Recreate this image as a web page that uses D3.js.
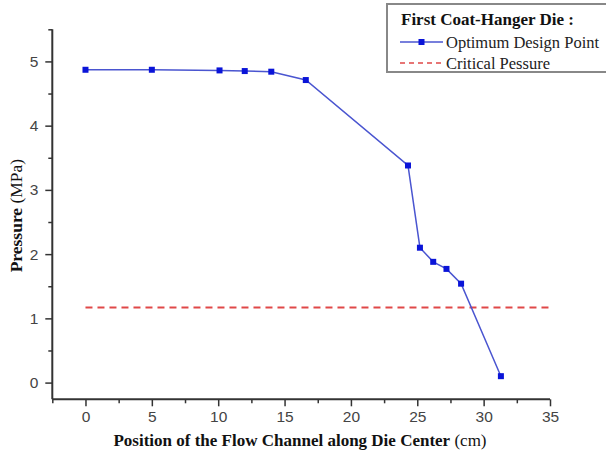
<!DOCTYPE html>
<html>
<head>
<meta charset="utf-8">
<script src="https://cdn.jsdelivr.net/npm/d3@7"></script>
<style>
  html, body { margin: 0; padding: 0; background: #fff; }
  svg { display: block; }
</style>
</head>
<body>
<svg id="chart" width="606" height="459"></svg>
<script>
// Pressure along the die centre line, first coat-hanger die
const positionCm = [0, 5, 10.1, 12, 14, 16.6, 24.3, 25.2, 26.2, 27.2, 28.3, 31.3];
const pressureMPa = [4.87, 4.87, 4.86, 4.85, 4.84, 4.71, 3.38, 2.10, 1.88, 1.77, 1.54, 0.10];
const criticalPressure = 1.17;
const criticalSpan = [0, 35];

const xMajorTicks = [0, 5, 10, 15, 20, 25, 30, 35];
const xMinorTicks = [-2.5, 2.5, 7.5, 12.5, 17.5, 22.5, 27.5, 32.5];
const yMajorTicks = [0, 1, 2, 3, 4, 5];
const yMinorTicks = [0.5, 1.5, 2.5, 3.5, 4.5, 5.5];

const legendTitle = "First Coat-Hanger Die :";
const seriesNames = ["Optimum Design Point", "Critical Pessure"];

const svg = d3.select("#chart");

const x = d3.scaleLinear().domain([-2.5, 35]).range([52.3, 550]);
const y = d3.scaleLinear().domain([-0.26, 5.5]).range([399.3, 29.3]);

const axisColor = "#333";
const tickFont = "'Liberation Sans', Arial, sans-serif";
const serif = "'Liberation Serif', 'Times New Roman', serif";

// x axis: major ticks with labels, minor ticks without
const gx = svg.append("g").attr("transform", `translate(0,${y.range()[0]})`);
gx.call(d3.axisBottom(x).tickValues(xMajorTicks).tickSize(7).tickPadding(5).tickFormat(d3.format("d")));
gx.append("g").call(d3.axisBottom(x).tickValues(xMinorTicks).tickSize(4).tickFormat(""));

// y axis
const gy = svg.append("g").attr("transform", `translate(${x.range()[0]},0)`);
gy.call(d3.axisLeft(y).tickValues(yMajorTicks).tickSize(7).tickPadding(7).tickFormat(d3.format("d")));
gy.append("g").call(d3.axisLeft(y).tickValues(yMinorTicks).tickSize(4).tickFormat(""));

// plain axis lines instead of the default end-capped domain paths
svg.selectAll(".domain").remove();
svg.selectAll(".tick line").attr("stroke", axisColor).attr("stroke-width", 1.5);
svg.selectAll(".tick text").attr("fill", "#444").style("font-family", tickFont).style("font-size", "15.5px");

svg.append("line").attr("x1", x.range()[0]).attr("x2", x.range()[1])
  .attr("y1", y.range()[0]).attr("y2", y.range()[0])
  .attr("stroke", axisColor).attr("stroke-width", 2);
svg.append("line").attr("x1", x.range()[0]).attr("x2", x.range()[0])
  .attr("y1", y.range()[0]).attr("y2", y.range()[1])
  .attr("stroke", axisColor).attr("stroke-width", 2);

// critical pressure reference line
svg.append("line")
  .attr("x1", x(criticalSpan[0])).attr("x2", x(criticalSpan[1]))
  .attr("y1", y(criticalPressure)).attr("y2", y(criticalPressure))
  .attr("stroke", "#e04848").attr("stroke-width", 2)
  .attr("stroke-dasharray", "7,5");

// pressure profile
const pts = positionCm.map((p, i) => [p, pressureMPa[i]]);
svg.append("path")
  .datum(pts)
  .attr("fill", "none")
  .attr("stroke", "#4a55d0")
  .attr("stroke-width", 1.5)
  .attr("d", d3.line().x(d => x(d[0])).y(d => y(d[1])));

const ms = 6;
svg.selectAll("rect.pt").data(pts).enter().append("rect")
  .attr("class", "pt")
  .attr("x", d => x(d[0]) - ms / 2).attr("y", d => y(d[1]) - ms / 2)
  .attr("width", ms).attr("height", ms)
  .attr("fill", "#0a14d8");

// axis titles
const xt = svg.append("text")
  .attr("x", 300).attr("y", 446)
  .attr("text-anchor", "middle")
  .style("font-family", serif).style("font-size", "17px").attr("fill", "#111");
xt.append("tspan").attr("font-weight", "bold").text("Position of the Flow Channel along Die Center");
xt.append("tspan").text(" (cm)");

const yt = svg.append("text")
  .attr("transform", `translate(22,${y(2.6)}) rotate(-90)`)
  .attr("text-anchor", "middle")
  .style("font-family", serif).style("font-size", "17.5px").attr("fill", "#111");
yt.append("tspan").attr("font-weight", "bold").text("Pressure");
yt.append("tspan").text(" (MPa)");

// legend (box runs off the right edge of the canvas)
const lg = svg.append("g");
lg.append("rect").attr("x", 387).attr("y", 4).attr("width", 224).attr("height", 68)
  .attr("fill", "#fff").attr("stroke", "#888").attr("stroke-width", 2);
lg.append("text").attr("x", 401).attr("y", 25)
  .style("font-family", serif).style("font-size", "17px").attr("font-weight", "bold")
  .attr("fill", "#111").text(legendTitle);

lg.append("line").attr("x1", 400).attr("x2", 443).attr("y1", 42).attr("y2", 42)
  .attr("stroke", "#4a55d0").attr("stroke-width", 1.5);
lg.append("rect").attr("x", 421.5 - ms / 2).attr("y", 42 - ms / 2).attr("width", ms).attr("height", ms)
  .attr("fill", "#0a14d8");
lg.append("text").attr("x", 446).attr("y", 48)
  .style("font-family", serif).style("font-size", "16.5px").attr("fill", "#222").text(seriesNames[0]);

lg.append("line").attr("x1", 400).attr("x2", 443).attr("y1", 63).attr("y2", 63)
  .attr("stroke", "#e04848").attr("stroke-width", 1.5).attr("stroke-dasharray", "5,4");
lg.append("text").attr("x", 446).attr("y", 69)
  .style("font-family", serif).style("font-size", "16.5px").attr("fill", "#222").text(seriesNames[1]);
</script>
</body>
</html>
